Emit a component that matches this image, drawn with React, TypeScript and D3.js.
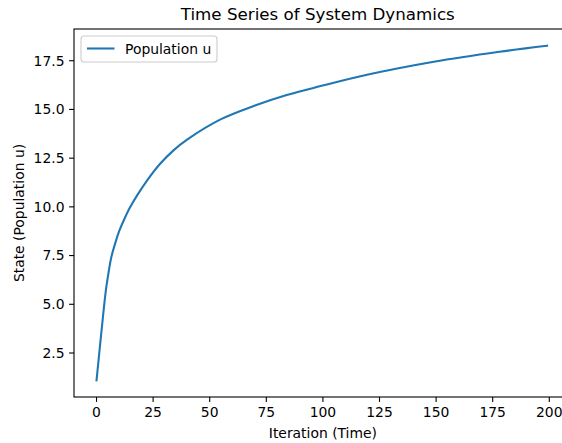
import React from "react";
import * as d3 from "d3";

const iterations = [0, 2, 4, 5, 6.5, 8.3, 10, 12, 14.7, 18, 22.3, 28, 34, 40, 55, 70, 84, 99, 119, 149, 178, 199];
const population = [1.1, 3.4, 5.6, 6.4, 7.4, 8.15, 8.75, 9.3, 9.95, 10.6, 11.35, 12.2, 12.9, 13.45, 14.5, 15.2, 15.74, 16.2, 16.77, 17.45, 17.96, 18.27];
const xTicks = [0, 25, 50, 75, 100, 125, 150, 175, 200];
const yTicks = [2.5, 5.0, 7.5, 10.0, 12.5, 15.0, 17.5];

const W = 562;
const H = 443;
const FONT = "DejaVu Sans, sans-serif";

export default function App() {
  const xMin = 0, xMax = 199;
  const yMin = d3.min(population)!;
  const yMax = d3.max(population)!;
  const xm = (xMax - xMin) * 0.05;
  const ym = (yMax - yMin) * 0.05;

  const left = 74, top = 29, bottom = 397;
  const x = d3.scaleLinear().domain([xMin - xm, xMax + xm]).range([left, 96.8 + (xMax + xm) * 2.2625]);
  const y = d3.scaleLinear().domain([yMin - ym, yMax + ym]).range([bottom, top]);
  const right = x.range()[1];

  const pts: [number, number][] = iterations.map((t, i) => [t, population[i]]);
  const line = d3.line<[number, number]>().x(d => x(d[0])).y(d => y(d[1])).curve(d3.curveCatmullRom.alpha(0.5));

  return (
    <svg width={W} height={H} style={{ position: "absolute", left: 0, top: 0, background: "#fff" }} fontFamily={FONT}>
      <rect x={0} y={0} width={W} height={H} fill="#fff" />
      <text x={(left + right) / 2 - 4} y={20} textAnchor="middle" fontSize={16.7} fill="#000">Time Series of System Dynamics</text>
      <path d={line(pts) || ""} fill="none" stroke="#1f77b4" strokeWidth={2.08} strokeLinejoin="round" strokeLinecap="square" />
      <rect x={left} y={top} width={right - left} height={bottom - top} fill="none" stroke="#000" strokeWidth={1.1} />
      {xTicks.map(t => (
        <g key={"x" + t}>
          <line x1={x(t)} x2={x(t)} y1={bottom} y2={bottom + 4.9} stroke="#000" strokeWidth={1.1} />
          <text x={x(t)} y={bottom + 20} textAnchor="middle" fontSize={13.9} fill="#000">{t}</text>
        </g>
      ))}
      {yTicks.map(v => (
        <g key={"y" + v}>
          <line x1={left - 4.9} x2={left} y1={y(v)} y2={y(v)} stroke="#000" strokeWidth={1.1} />
          <text x={left - 9.5} y={y(v)} dy="0.35em" textAnchor="end" fontSize={13.9} fill="#000">{v.toFixed(1)}</text>
        </g>
      ))}
      <text x={x(100)} y={438} textAnchor="middle" fontSize={13.9} fill="#000">Iteration (Time)</text>
      <text transform={`translate(24,${(top + bottom) / 2}) rotate(-90)`} textAnchor="middle" fontSize={13.9} fill="#000">State (Population u)</text>
      <g>
        <rect x={81} y={36} width={136} height={26} rx={3} fill="#fff" fillOpacity={0.8} stroke="#ccc" strokeWidth={1.1} />
        <line x1={87} x2={114.5} y1={48.5} y2={48.5} stroke="#1f77b4" strokeWidth={2.08} />
        <text x={125} y={53.5} fontSize={13.9} fill="#000">Population u</text>
      </g>
    </svg>
  );
}
